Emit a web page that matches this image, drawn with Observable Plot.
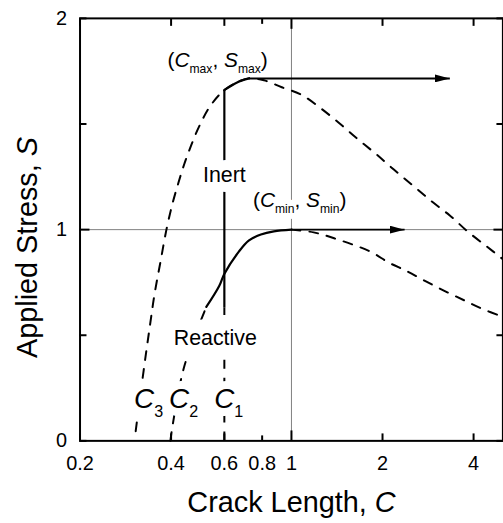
<!DOCTYPE html>
<html>
<head>
<meta charset="utf-8">
<script src="https://cdn.jsdelivr.net/npm/d3@7"></script>
<script src="https://cdn.jsdelivr.net/npm/@observablehq/plot@0.6"></script>
<style>
html, body { margin: 0; padding: 0; background: #fff; overflow: hidden; }
#chart { width: 503px; height: 523px; overflow: hidden; }
</style>
</head>
<body>
<div id="chart"></div>
<script>
// ---------- data ----------
const xTickLabels = [0.2, 0.4, 0.6, 0.8, 1, 2, 4];
const xTicksMid = [0.2, 0.4, 0.6, 2, 4];
const xTicksShort = [0.8];
const xTicksLong = [1];
const yTicksMinor = [0, 0.5, 1.5, 2];
const yTicksLong = [1];
const yTickLabels = [0, 1, 2];

// outer curve (C3 -> (Cmax, Smax) -> decay), dashed
const outerC = [0.3055, 0.3246, 0.3397, 0.3527, 0.3692, 0.3862, 0.4043, 0.4230, 0.4426, 0.4667, 0.4958, 0.5389, 0.5991, 0.6611, 0.7239, 0.8110, 0.9291, 1.077, 1.2434, 1.430, 1.645, 1.892, 2.185, 2.533, 2.913, 3.338, 3.839, 4.434, 5.0];
const outerS = [0.046, 0.333, 0.535, 0.695, 0.850, 1.001, 1.123, 1.222, 1.312, 1.401, 1.490, 1.585, 1.660, 1.697, 1.716, 1.707, 1.674, 1.639, 1.577, 1.507, 1.432, 1.361, 1.283, 1.206, 1.133, 1.067, 0.989, 0.919, 0.860];
const outerSolidFrom = 0.599, outerSolidTo = 0.724;

// inner curve (C2 -> (Cmin, Smin) -> decay)
const innerC = [0.398, 0.4042, 0.4426, 0.5230, 0.5769, 0.5991, 0.6710, 0.7239, 0.7925, 0.8745, 1.0, 1.184, 1.404, 1.816, 2.104, 2.411, 2.773, 3.214, 3.726, 4.269, 5.0];
const innerS = [0.0, 0.069, 0.354, 0.634, 0.733, 0.789, 0.897, 0.949, 0.977, 0.992, 1.0, 0.987, 0.956, 0.897, 0.843, 0.803, 0.756, 0.709, 0.665, 0.625, 0.587];
const innerSolidFrom = 0.523, innerSolidTo = 1.0;

// vertical line at C1
const c1 = 0.6, c1Top = 1.66, c1SolidFrom = 0.63;

// arrows
const arrowFrom = [0.724, 1.0];
const arrowTo = [3.338, 2.366];
const arrowS = [1.716, 1.0];

// reference grid lines
const gridC = [1];
const gridS = [1];

// labels  (*x* = italic, _{..} = subscript)
const peakText = ["(*C*_{max}, *S*_{max})", "(*C*_{min}, *S*_{min})"];
const peakC = [0.570, 1.065];
const peakS = [1.772, 1.108];
const regionText = ["Inert", "Reactive"];
const regionC = [0.6, 0.56];
const regionS = [1.226, 0.452];
const cText = ["*C*_{3}", "*C*_{2}", "*C*_{1}"];
const cC = [0.337, 0.44, 0.62];
const cS = [0.154, 0.154, 0.154];
const xTitle = "Crack Length, *C*";
const yTitle = "Applied Stress, *S*";

// ---------- tables ----------
const outerRows = outerC.map((c, i) => ({C: c, S: outerS[i]}));
const innerRows = innerC.map((c, i) => ({C: c, S: innerS[i]}));
const innerDashed = [
  ...innerRows.filter(d => d.C <= innerSolidFrom).map(d => ({...d, part: "low"})),
  ...innerRows.filter(d => d.C >= innerSolidTo).map(d => ({...d, part: "high"}))
];
const innerSolid = innerRows.filter(d => d.C >= innerSolidFrom && d.C <= innerSolidTo);
const outerSolid = outerRows.filter(d => d.C >= outerSolidFrom && d.C <= outerSolidTo);
const arrows = arrowFrom.map((c, i) => ({x1: c, x2: arrowTo[i], y: arrowS[i]}));
const c1Rules = [
  {x: c1, y1: 0, y2: c1SolidFrom, dashed: true},
  {x: c1, y1: c1SolidFrom, y2: c1Top, dashed: false}
];
const peaks = peakText.map((t, i) => ({t, C: peakC[i], S: peakS[i]}));
const regions = regionText.map((t, i) => ({t, C: regionC[i], S: regionS[i]}));
const cLabels = cText.map((t, i) => ({t, C: cC[i], S: cS[i]}));

// filled arrow head marker
function filledArrow(color) {
  const NS = "http://www.w3.org/2000/svg";
  const m = document.createElementNS(NS, "marker");
  m.setAttribute("viewBox", "-15 -4 15 8");
  m.setAttribute("markerWidth", "15");
  m.setAttribute("markerHeight", "8");
  m.setAttribute("markerUnits", "userSpaceOnUse");
  m.setAttribute("orient", "auto");
  m.setAttribute("refX", "0");
  m.setAttribute("refY", "0");
  const p = document.createElementNS(NS, "path");
  p.setAttribute("d", "M-15,-4L0,0L-15,4Z");
  p.setAttribute("fill", color);
  p.setAttribute("stroke", "none");
  m.appendChild(p);
  return m;
}

// white halo under a label set, then the label itself
function haloText(data, fontSize, halo) {
  const base = {x: "C", y: "S", text: "t", fontSize, lineAnchor: "bottom", textAnchor: "middle"};
  return [
    Plot.text(data, {...base, fill: "white", stroke: "white", strokeWidth: halo, strokeLinejoin: "round"}),
    Plot.text(data, {...base, fill: "black"})
  ];
}

const DASH = "9,9";
const font = "'Liberation Sans', Arial, Helvetica, sans-serif";

const chart = Plot.plot({
  width: 506,
  height: 523,
  marginLeft: 80,
  marginRight: 0.6,
  marginTop: 18,
  marginBottom: 80,
  style: {fontFamily: font, fontSize: "20px", background: "white", color: "black", overflow: "visible"},
  x: {type: "log", domain: [0.2, 5]},
  y: {domain: [0, 2]},
  marks: [
    // reference lines
    Plot.ruleX(gridC, {stroke: "#808080", strokeWidth: 1}),
    Plot.ruleY(gridS, {stroke: "#808080", strokeWidth: 1}),
    // curves
    Plot.line(outerRows, {x: "C", y: "S", curve: "catmull-rom", stroke: "black", strokeWidth: 2, strokeDasharray: DASH}),
    Plot.line(innerDashed, {x: "C", y: "S", z: "part", curve: "catmull-rom", stroke: "black", strokeWidth: 2, strokeDasharray: DASH}),
    Plot.line(innerSolid, {x: "C", y: "S", curve: "catmull-rom", stroke: "black", strokeWidth: 2.2}),
    Plot.line(outerSolid, {x: "C", y: "S", curve: "catmull-rom", stroke: "black", strokeWidth: 2.2}),
    // C1 vertical
    Plot.ruleX(c1Rules.filter(d => d.dashed), {x: "x", y1: "y1", y2: "y2", stroke: "black", strokeWidth: 2, strokeDasharray: DASH}),
    Plot.ruleX(c1Rules.filter(d => !d.dashed), {x: "x", y1: "y1", y2: "y2", stroke: "black", strokeWidth: 2.2}),
    // arrows
    Plot.link(arrows, {x1: "x1", x2: "x2", y1: "y", y2: "y", stroke: "black", strokeWidth: 2, markerEnd: filledArrow}),
    // labels
    Plot.text(peaks.slice(0, 1), {x: "C", y: "S", text: "t", fontSize: 21, lineAnchor: "bottom", textAnchor: "middle", fill: "black"}),
    ...haloText(peaks.slice(1), 21, 12),
    ...haloText(regions.slice(0, 1), 21.5, 20),
    ...haloText(regions.slice(1), 21.5, 28),
    ...haloText(cLabels, 28, 16),
    // axis titles
    Plot.text([xTitle], {text: d => d, frameAnchor: "bottom", textAnchor: "middle", lineAnchor: "middle", dy: 62, fontSize: 29, fill: "black"}),
    Plot.text([yTitle], {text: d => d, frameAnchor: "left", textAnchor: "middle", lineAnchor: "middle", rotate: -90, dx: -53, dy: 18, fontSize: 29, fill: "black"}),
    // frame
    Plot.frame({stroke: "black", strokeWidth: 2}),
    // ticks (pointing inward)
    Plot.axisX(xTicksMid, {anchor: "bottom", tickSize: -7, strokeWidth: 2, fill: "none", label: null}),
    Plot.axisX(xTicksShort, {anchor: "bottom", tickSize: -5, strokeWidth: 2, fill: "none", label: null}),
    Plot.axisX(xTicksLong, {anchor: "bottom", tickSize: -10, strokeWidth: 2, fill: "none", label: null}),
    Plot.axisX(xTicksMid, {anchor: "top", tickSize: -7, strokeWidth: 2, fill: "none", label: null}),
    Plot.axisX(xTicksShort, {anchor: "top", tickSize: -5, strokeWidth: 2, fill: "none", label: null}),
    Plot.axisX(xTicksLong, {anchor: "top", tickSize: -10, strokeWidth: 2, fill: "none", label: null}),
    Plot.axisY(yTicksMinor, {anchor: "left", tickSize: -7, strokeWidth: 2, fill: "none", label: null}),
    Plot.axisY(yTicksLong, {anchor: "left", tickSize: -10, strokeWidth: 2, fill: "none", label: null}),
    Plot.axisY(yTicksMinor, {anchor: "right", tickSize: -7, strokeWidth: 2, fill: "none", label: null}),
    Plot.axisY(yTicksLong, {anchor: "right", tickSize: -10, strokeWidth: 2, fill: "none", label: null}),
    // tick labels
    Plot.text(xTickLabels, {x: d => d, text: d => `${d}`, frameAnchor: "bottom", textAnchor: "middle", lineAnchor: "top", dy: 15, fontSize: 20, fill: "black"}),
    Plot.axisY(yTickLabels, {anchor: "left", tickSize: 0, tickPadding: 13, fontSize: 20, tickFormat: d => `${d}`, label: null})
  ]
});

document.getElementById("chart").appendChild(chart);

// rich text: *italic* and _{subscript}
function richText(root) {
  const NS = "http://www.w3.org/2000/svg";
  root.querySelectorAll("text").forEach(t => {
    const src = t.textContent;
    if (!/\*|_\{/.test(src)) return;
    const fs = parseFloat(getComputedStyle(t).fontSize) || 16;
    const subSize = (fs * 0.58).toFixed(1);
    const shift = fs * 0.3;
    while (t.firstChild) t.removeChild(t.firstChild);
    const re = /\*([^*]+)\*|_\{([^}]+)\}|([^*_]+)/g;
    let m, lowered = false;
    while ((m = re.exec(src))) {
      const ts = document.createElementNS(NS, "tspan");
      if (m[2] != null) {
        ts.textContent = m[2];
        ts.setAttribute("font-size", subSize);
        if (!lowered) { ts.setAttribute("dy", shift.toFixed(1)); lowered = true; }
      } else {
        ts.textContent = m[1] != null ? m[1] : m[3];
        if (m[1] != null) ts.setAttribute("font-style", "italic");
        if (lowered) { ts.setAttribute("dy", (-shift).toFixed(1)); lowered = false; }
      }
      t.appendChild(ts);
    }
  });
}
richText(chart);
</script>
</body>
</html>
